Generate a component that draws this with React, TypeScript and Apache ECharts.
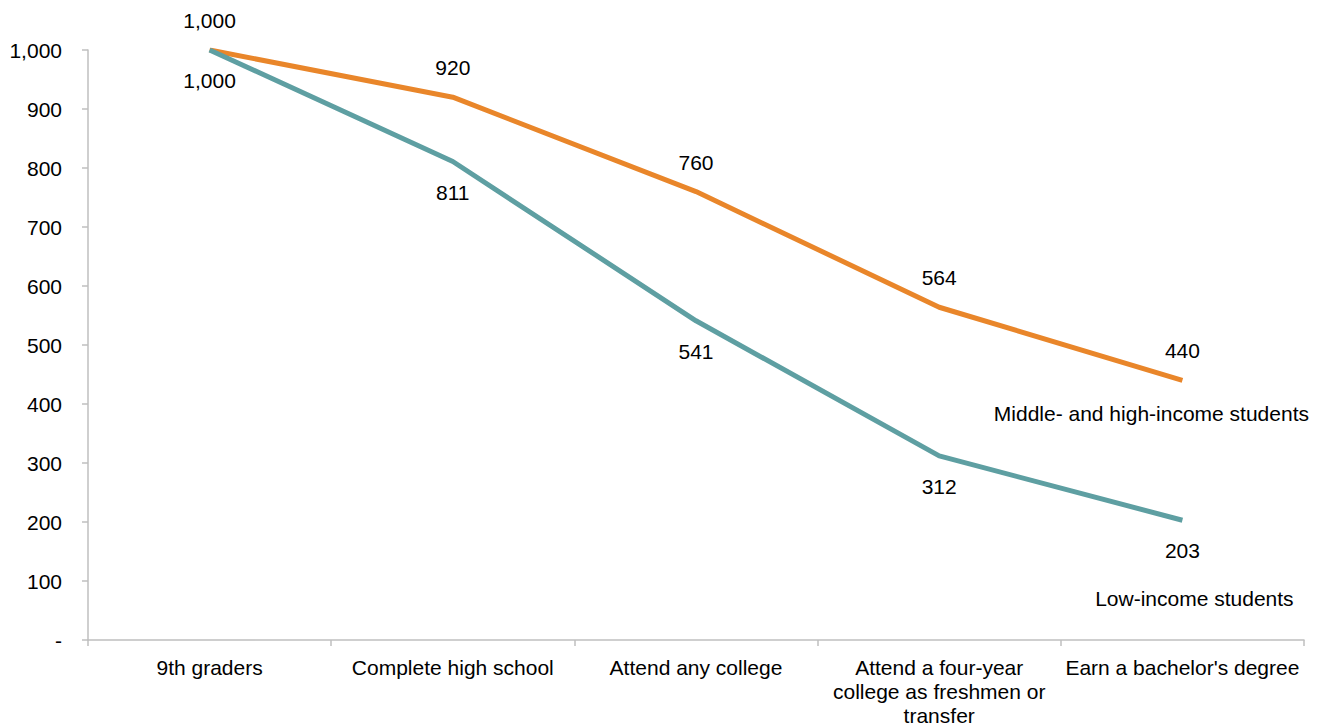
import React, { useEffect, useRef } from "react";
import * as echarts from "echarts";

const CATEGORIES = [
  "9th graders",
  "Complete high school",
  "Attend any college",
  "Attend a four-year college as freshmen or transfer",
  "Earn a bachelor's degree",
];
const CATEGORY_LINES: string[][] = [
  ["9th graders"],
  ["Complete high school"],
  ["Attend any college"],
  ["Attend a four-year", "college as freshmen or", "transfer"],
  ["Earn a bachelor's degree"],
];
const MID_HIGH_NAME = "Middle- and high-income students";
const LOW_NAME = "Low-income students";
const MID_HIGH = [1000, 920, 760, 564, 440];
const LOW = [1000, 811, 541, 312, 203];

const FONT = "'Liberation Sans', Arial, sans-serif";
const ORANGE = "#E9862A";
const TEAL = "#5E9FA2";
const AXIS = "#BFBFBF";

const fmt = (v: number) => (v === 0 ? "-" : v.toLocaleString("en-US"));

export default function App() {
  const ref = useRef<HTMLDivElement>(null);
  useEffect(() => {
    document.body.style.margin = "0";
    const chart = echarts.init(ref.current!, undefined, { renderer: "svg" });
    const last = CATEGORIES.length - 1;
    chart.setOption({
      animation: false,
      textStyle: { fontFamily: FONT, color: "#000" },
      grid: { left: 88, right: 21, top: 50, bottom: 87, containLabel: false },
      xAxis: {
        type: "category",
        data: CATEGORIES,
        boundaryGap: true,
        axisLine: { lineStyle: { color: AXIS, width: 1.5 } },
        axisTick: { show: true, interval: 0, length: 6, lineStyle: { color: AXIS, width: 1.5 } },
        axisLabel: {
          interval: 0,
          margin: 15,
          fontSize: 21,
          lineHeight: 24,
          color: "#000",
          fontFamily: FONT,
          formatter: (v: string) => {
            const i = CATEGORIES.indexOf(v);
            return i >= 0 ? CATEGORY_LINES[i].join("\n") : v;
          },
        },
      },
      yAxis: {
        type: "value",
        min: 0,
        max: 1000,
        interval: 100,
        splitLine: { show: false },
        axisLine: { show: true, lineStyle: { color: AXIS, width: 1.5 } },
        axisTick: { show: true, length: 6, lineStyle: { color: AXIS, width: 1.5 } },
        axisLabel: { margin: 26, fontSize: 21, color: "#000", fontFamily: FONT, formatter: fmt },
      },
      series: [
        {
          name: MID_HIGH_NAME,
          type: "line",
          data: MID_HIGH,
          symbol: "circle",
          symbolSize: 0,
          showSymbol: true,
          lineStyle: { color: ORANGE, width: 5 },
          itemStyle: { color: ORANGE },
          label: {
            show: true,
            position: "top",
            distance: 19,
            fontSize: 21,
            color: "#000",
            fontFamily: FONT,
            formatter: (p: any) => fmt(p.value),
          },
          markPoint: {
            symbol: "circle",
            symbolSize: 0,
            data: [
              {
                coord: [last, MID_HIGH[last]],
                label: {
                  show: true,
                  formatter: MID_HIGH_NAME,
                  position: "inside",
                  offset: [-31, 33],
                  fontSize: 21,
                  color: "#000",
                  fontFamily: FONT,
                },
              },
            ],
          },
        },
        {
          name: LOW_NAME,
          type: "line",
          data: LOW,
          symbol: "circle",
          symbolSize: 0,
          showSymbol: true,
          lineStyle: { color: TEAL, width: 5 },
          itemStyle: { color: TEAL },
          label: {
            show: true,
            position: "bottom",
            distance: 20,
            fontSize: 21,
            color: "#000",
            fontFamily: FONT,
            formatter: (p: any) => fmt(p.value),
          },
          markPoint: {
            symbol: "circle",
            symbolSize: 0,
            data: [
              {
                coord: [last, LOW[last]],
                label: {
                  show: true,
                  formatter: LOW_NAME,
                  position: "inside",
                  offset: [12, 78],
                  fontSize: 21,
                  color: "#000",
                  fontFamily: FONT,
                },
              },
            ],
          },
        },
      ],
    });
    return () => chart.dispose();
  }, []);
  return <div ref={ref} style={{ width: 1325, height: 727 }} />;
}
